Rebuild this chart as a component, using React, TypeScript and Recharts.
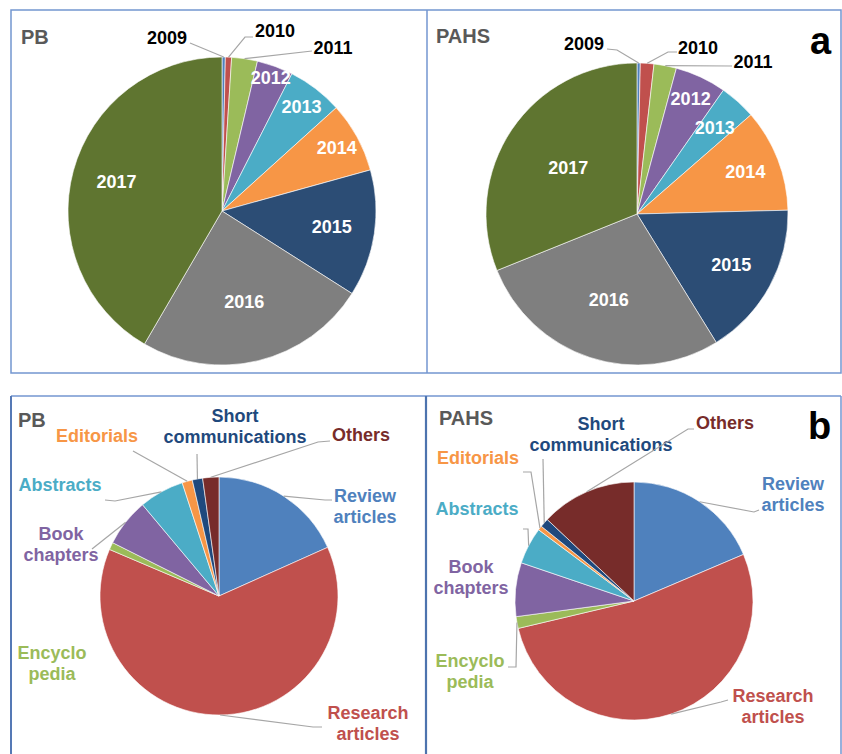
import React from 'react'
import { PieChart, Pie, Cell } from 'recharts'

const YEARS = ['2009', '2010', '2011', '2012', '2013', '2014', '2015', '2016', '2017']
const PB_YEARS = [0.35, 0.65, 2.7, 3.8, 5.8, 7.4, 13.3, 24.4, 41.6]
const PAHS_YEARS = [0.35, 1.45, 2.4, 5.5, 3.9, 11.0, 16.6, 27.7, 31.1]
const YEAR_COLORS = ['#4F81BD', '#C0504D', '#9BBB59', '#8064A2', '#4BACC6', '#F79646', '#2C4D75', '#7F7F7F', '#5F7530']

const TYPES = ['Review articles', 'Research articles', 'Encyclopedia', 'Book chapters', 'Abstracts', 'Editorials', 'Short communications', 'Others']
const TYPE_LINES = [['Review', 'articles'], ['Research', 'articles'], ['Encyclo', 'pedia'], ['Book', 'chapters'], ['Abstracts'], ['Editorials'], ['Short', 'communications'], ['Others']]
const PB_TYPES = [18.3, 63.1, 1.0, 6.5, 6.1, 1.4, 1.4, 2.2]
const PAHS_TYPES = [18.6, 52.7, 1.6, 7.3, 5.0, 0.6, 1.2, 13.0]
const TYPE_COLORS = ['#4F81BD', '#C0504D', '#9BBB59', '#8064A2', '#4BACC6', '#F79646', '#1F497D', '#772C2A']

const FONT = '"Liberation Sans", Arial, sans-serif'
const RAD = Math.PI / 180
const LEADER = '#A6A6A6'

type Spec = { r?: number; x?: number; y?: number; leader?: number[][] }

// label placement, inside (r = fraction of radius) or outside (x, y baseline + leader)
const PB_YEAR_POS: Spec[] = [
  { x: 167, y: 44, leader: [[190, 43]] },
  { x: 275, y: 37, leader: [[253, 37], [245, 37]] },
  { x: 333, y: 54, leader: [[312, 51]] },
  { r: 0.92 }, { r: 0.85 }, { r: 0.85 }, { r: 0.72 }, { r: 0.61 }, { r: 0.71 },
]
const PAHS_YEAR_POS: Spec[] = [
  { x: 584, y: 50, leader: [[607, 49], [617, 50]] },
  { x: 698, y: 54, leader: [[677, 52], [668, 52]] },
  { x: 753, y: 68, leader: [[732, 66]] },
  { r: 0.84 }, { r: 0.77 }, { r: 0.77 }, { r: 0.71 }, { r: 0.6 }, { r: 0.55 },
]
const PB_TYPE_POS: Spec[] = [
  { x: 365, y: 502, leader: [[332, 500], [325, 500]] },
  { x: 368, y: 719, leader: [[322, 727], [313, 727]] },
  { x: 52, y: 659 },
  { x: 61, y: 540, leader: [[92, 549]] },
  { x: 60, y: 491, leader: [[105, 500], [115, 501]] },
  { x: 97, y: 442, leader: [[133, 451]] },
  { x: 235, y: 422, leader: [[197, 454]] },
  { x: 361, y: 441, leader: [[330, 441], [318, 442]] },
]
const PAHS_TYPE_POS: Spec[] = [
  { x: 793, y: 490, leader: [[759, 510], [754, 512]] },
  { x: 773, y: 702, leader: [[728, 700], [721, 702]] },
  { x: 470, y: 667, leader: [[508, 667], [516, 667]] },
  { x: 471, y: 573 },
  { x: 477, y: 515, leader: [[523, 529], [528, 529]] },
  { x: 478, y: 464, leader: [[523, 472], [531, 472]] },
  { x: 601, y: 430, leader: [[543, 459]] },
  { x: 725, y: 429, leader: [[694, 429], [688, 429]] },
]

const yearData = (vals: number[]) => YEARS.map((name, i) => ({ name, value: vals[i] }))
const typeData = (vals: number[]) => TYPES.map((name, i) => ({ name, value: vals[i] }))

function makeLabel(pos: Spec[], lines: (i: number) => string[], color: (i: number) => string) {
  return (p: any) => {
    const s = pos[p.index]
    if (!s) return <g />
    const cos = Math.cos(-p.midAngle * RAD)
    const sin = Math.sin(-p.midAngle * RAD)
    if (s.r) {
      return (
        <text x={p.cx + p.outerRadius * s.r * cos} y={p.cy + p.outerRadius * s.r * sin} textAnchor="middle"
          dominantBaseline="central" fill="#fff" fontFamily={FONT} fontWeight="bold" fontSize={18}>
          {lines(p.index)[0]}
        </text>
      )
    }
    const ex = p.cx + p.outerRadius * cos
    const ey = p.cy + p.outerRadius * sin
    const pts = s.leader ? [...s.leader, [ex, ey]].map(q => q.join(',')).join(' ') : null
    return (
      <g>
        {pts && <polyline points={pts} fill="none" stroke={LEADER} strokeWidth={1.2} />}
        <text x={s.x} y={s.y} textAnchor="middle" fill={color(p.index)} fontFamily={FONT} fontWeight="bold" fontSize={18}>
          {lines(p.index).map((t, k) => <tspan key={k} x={s.x} dy={k === 0 ? 0 : 21}>{t}</tspan>)}
        </text>
      </g>
    )
  }
}

const yearLines = (i: number) => [YEARS[i]]
const typeLines = (i: number) => TYPE_LINES[i]

export default function App() {
  const title = { fontFamily: FONT, fontWeight: 'bold' as const, fontSize: 20, fill: '#595959' }
  return (
    <div style={{ position: 'absolute', left: 0, top: 0, width: 842, height: 754, background: '#fff' }}>
      <svg width={842} height={754} style={{ position: 'absolute', left: 0, top: 0 }}>
        <rect x={11} y={10} width={830} height={363} fill="none" stroke="#7396D0" strokeWidth={1.5} />
        <line x1={427} y1={10} x2={427} y2={373} stroke="#7396D0" strokeWidth={1.5} />
        <line x1={11} y1={396} x2={841} y2={396} stroke="#7396D0" strokeWidth={1.5} />
        <line x1={11} y1={396} x2={11} y2={754} stroke="#5579B5" strokeWidth={2} />
        <line x1={426} y1={396} x2={426} y2={754} stroke="#4D73AE" strokeWidth={2.2} />
        <line x1={841} y1={396} x2={841} y2={754} stroke="#7396D0" strokeWidth={1.5} />
        <text x={21} y={44} {...title}>PB</text>
        <text x={436} y={43} {...title}>PAHS</text>
        <text x={18} y={427} {...title}>PB</text>
        <text x={439} y={425} {...title}>PAHS</text>
        <text x={810} y={54} fontFamily={FONT} fontWeight="bold" fontSize={38} fill="#000">a</text>
        <text x={808} y={439} fontFamily={FONT} fontWeight="bold" fontSize={38} fill="#000">b</text>
      </svg>
      <div style={{ position: 'absolute', left: 0, top: 0 }}>
        <PieChart width={842} height={754} margin={{ top: 0, right: 0, bottom: 0, left: 0 }}>
          <Pie data={yearData(PB_YEARS)} dataKey="value" nameKey="name" cx={222} cy={211} outerRadius={154}
            startAngle={90} endAngle={-270} stroke="#fff" strokeWidth={0.6} isAnimationActive={false}
            labelLine={false} label={makeLabel(PB_YEAR_POS, yearLines, () => '#000')}>
            {YEARS.map((_, i) => <Cell key={i} fill={YEAR_COLORS[i]} />)}
          </Pie>
          <Pie data={yearData(PAHS_YEARS)} dataKey="value" nameKey="name" cx={637} cy={214} outerRadius={151}
            startAngle={90} endAngle={-270} stroke="#fff" strokeWidth={0.6} isAnimationActive={false}
            labelLine={false} label={makeLabel(PAHS_YEAR_POS, yearLines, () => '#000')}>
            {YEARS.map((_, i) => <Cell key={i} fill={YEAR_COLORS[i]} />)}
          </Pie>
          <Pie data={typeData(PB_TYPES)} dataKey="value" nameKey="name" cx={219} cy={596} outerRadius={119}
            startAngle={90} endAngle={-270} stroke="#fff" strokeWidth={0.6} isAnimationActive={false}
            labelLine={false} label={makeLabel(PB_TYPE_POS, typeLines, i => TYPE_COLORS[i])}>
            {TYPES.map((_, i) => <Cell key={i} fill={TYPE_COLORS[i]} />)}
          </Pie>
          <Pie data={typeData(PAHS_TYPES)} dataKey="value" nameKey="name" cx={634} cy={601} outerRadius={119}
            startAngle={90} endAngle={-270} stroke="#fff" strokeWidth={0.6} isAnimationActive={false}
            labelLine={false} label={makeLabel(PAHS_TYPE_POS, typeLines, i => TYPE_COLORS[i])}>
            {TYPES.map((_, i) => <Cell key={i} fill={TYPE_COLORS[i]} />)}
          </Pie>
        </PieChart>
      </div>
    </div>
  )
}
